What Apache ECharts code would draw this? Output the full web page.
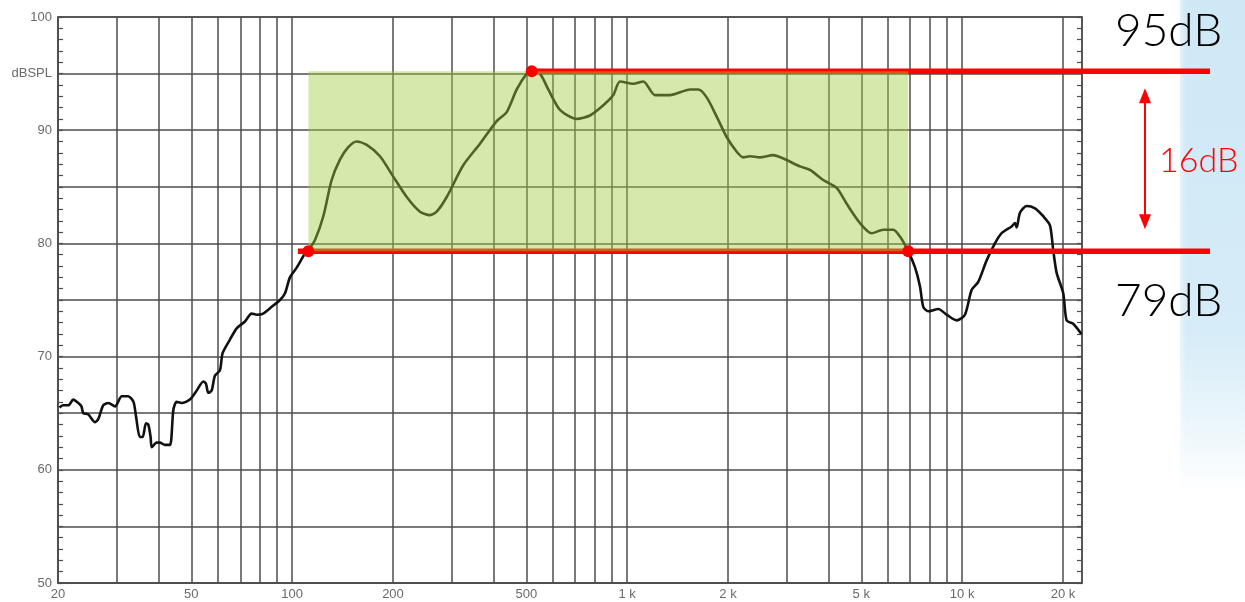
<!DOCTYPE html>
<html>
<head>
<meta charset="utf-8">
<script src="https://cdn.jsdelivr.net/npm/echarts@6/dist/echarts.min.js"></script>
<style>
html,body{margin:0;padding:0;background:#fff;}
#c{width:1245px;height:602px;}
</style>
</head>
<body>
<div id="c"></div>
<script>
// ---- data ----
const freqHz = [20.2,20.7,21.5,22.2,23.0,23.5,23.8,24.6,25.8,26.4,27.3,28.3,29.6,31.0,32.4,33.6,34.2,35.1,35.8,36.6,37.2,37.8,38.1,39.4,40.3,41.7,43.2,44.2,45.2,46.8,49.5,51.9,54.3,55.3,56.2,57.5,58.8,60.9,62.0,65.2,68.3,72.3,75.7,78.4,82.0,86.9,92.0,95.2,98.5,103.4,109.2,111.8,117,123.9,131.2,138.9,147.1,155.8,167,182.9,200.4,219.8,240.8,258,270,289.4,324.2,363.6,408,437,468.2,501.4,518.8,549.4,581.6,630.2,707,774.6,849,909.4,952,1043,1118,1211,1343,1541,1631,1728,1851,1982,2124,2222,2327,2492,2730,2926,3281,3515,3851,4222,4523,4955,5370,5816,6231,6524,6906,7232,7487,7656,7923,8489,8993,9633,10198,10680,11176,11838,12532,13122,14060,14382,14552,14884,15584,16498,17468,18292,18708,19152,20040,20510,21460,22700];
const splDb = [65.5,65.7,65.7,66.2,65.9,65.6,65.0,64.9,64.2,64.5,65.7,65.9,65.6,66.5,66.5,66.0,64.7,62.9,62.9,64.1,64.0,62.9,62.0,62.4,62.4,62.2,62.2,65.3,66.0,65.9,66.2,67.0,67.8,67.6,66.8,67.0,68.3,68.8,70.3,71.5,72.5,73.1,73.8,73.7,73.8,74.4,75.0,75.6,77.0,77.9,79.1,79.4,80.3,82.4,85.6,87.4,88.5,89.0,88.7,87.7,85.9,84.1,82.8,82.5,82.8,84.1,86.9,88.8,90.8,91.6,93.6,95.0,95.3,95.0,93.6,91.8,91.0,91.3,92.2,93.1,94.3,94.1,94.3,93.1,93.1,93.6,93.6,92.9,91.2,89.4,88.1,87.6,87.7,87.6,87.8,87.5,86.8,86.5,85.6,84.9,83.5,81.8,80.9,81.2,81.2,80.6,79.3,77.9,76.2,74.4,74.0,74.2,73.7,73.2,73.7,75.9,76.6,78.5,80.0,80.9,81.5,81.8,81.4,82.7,83.3,83.1,82.4,81.6,79.4,77.4,75.6,73.2,72.9,72.0];

const gridFreqs = [20,30,40,50,60,70,80,90,100,200,300,400,500,600,700,800,900,1000,2000,3000,4000,5000,6000,7000,8000,9000,10000,20000];
const labelFreqs = [20,50,100,200,500,1000,2000,5000,10000,20000];
const xTickLabels = ['20','50','100','200','500','1 k','2 k','5 k','10 k','20 k'];
const yLabelValues = [50,60,70,80,90,100];
const yUnitValue = 95;
const yUnitLabel = 'dBSPL';

const levelHigh = 95.2, levelLow = 79.3;
const bandStartHz = 111.8, bandEndHz = 6906, peakHz = 519;
const lowLineStartHz = 104;
const highText = '95dB', lowText = '79dB', diffText = '16dB';

// ---- chart ----
const chart = echarts.init(document.getElementById('c'), null, {renderer: 'canvas'});
const gridColor = '#4d4d4d';
const labelColor = '#6a6a6a';
const labelFont = 'Liberation Sans, Arial, sans-serif';

const yAxisBase = {
  type: 'value', min: 50, max: 100, interval: 5,
  axisLine: {show: true, lineStyle: {color: gridColor, width: 1.5}},
  axisTick: {show: true, inside: true, length: 5, lineStyle: {color: gridColor, width: 1.2}},
  minorTick: {show: true, splitNumber: 5, length: 5, lineStyle: {color: gridColor, width: 1.2}},
  splitLine: {show: true, lineStyle: {color: gridColor, width: 1.6}}
};

const option = {
  animation: false,
  backgroundColor: '#fff',
  grid: {left: 58, top: 17, width: 1024, height: 566, show: true, borderColor: gridColor, borderWidth: 1.5, backgroundColor: 'transparent'},
  xAxis: {
    type: 'log', logBase: 10, min: 20, max: 22800,
    axisLine: {show: true, lineStyle: {color: gridColor, width: 1.5}},
    axisTick: {show: false, customValues: gridFreqs},
    axisLabel: {
      show: true, customValues: labelFreqs, color: labelColor, fontSize: 13, fontFamily: labelFont, margin: 5,
      formatter: v => { const i = labelFreqs.indexOf(v); return i >= 0 ? xTickLabels[i] : ''; }
    },
    splitLine: {show: true, lineStyle: {color: gridColor, width: 1.5}},
    minorSplitLine: {show: false}
  },
  yAxis: [
    Object.assign({}, yAxisBase, {
      position: 'left',
      axisLabel: {
        show: true, color: labelColor, fontSize: 13, fontFamily: labelFont, margin: 6,
        formatter: v => v === yUnitValue ? yUnitLabel : (yLabelValues.indexOf(v) >= 0 ? String(v) : '')
      }
    }),
    Object.assign({}, yAxisBase, {
      position: 'right', axisLabel: {show: false}, splitLine: {show: false}
    })
  ],
  series: [
    {
      name: 'SPL', type: 'line', z: 2,
      data: freqHz.map((f, i) => [f, splDb[i]]),
      showSymbol: false, symbol: 'none', smooth: 0.25,
      lineStyle: {color: '#111', width: 2.6},
      markArea: {
        z: 4, silent: true,
        itemStyle: {color: 'rgba(159,205,68,0.44)', borderWidth: 0},
        data: [[{coord: [bandStartHz, levelHigh]}, {coord: [bandEndHz, levelLow]}]]
      }
    },
    {
      name: 'points', type: 'scatter', z: 6, symbolSize: 12,
      itemStyle: {color: '#ff0000', opacity: 1},
      data: [[bandStartHz, levelLow], [bandEndHz, levelLow], [peakHz, levelHigh]]
    }
  ]
};
chart.setOption(option);

// ---- annotations placed from the axis scale ----
const toPx = (f, v) => chart.convertToPixel({xAxisIndex: 0, yAxisIndex: 0}, [f, v]);
const pHighStart = toPx(peakHz, levelHigh);
const pLowStart = toPx(lowLineStartHz, levelLow);
const yHigh = pHighStart[1], yLow = pLowStart[1];
const lineEndX = 1210;
const arrowX = 1145;
const arrowTop = yHigh + 17, arrowBot = yLow - 22;
const headL = 15, headW = 6;
const annFont = 'Lato, "Noto Sans", sans-serif';

chart.setOption({
  graphic: [
    {
      type: 'rect', z: 0, silent: true,
      shape: {x: 1180, y: 0, width: 65, height: 602},
      style: {fill: new echarts.graphic.LinearGradient(0, 0, 0, 1, [
        {offset: 0, color: 'rgba(206,232,246,1)'},
        {offset: 0.55, color: 'rgba(214,236,248,1)'},
        {offset: 0.72, color: 'rgba(238,247,252,1)'},
        {offset: 0.82, color: 'rgba(255,255,255,1)'},
        {offset: 1, color: 'rgba(255,255,255,1)'}
      ])}
    },
    {
      type: 'rect', z: 0, silent: true,
      shape: {x: 1172, y: 0, width: 14, height: 602},
      style: {fill: new echarts.graphic.LinearGradient(0, 0, 1, 0, [
        {offset: 0, color: 'rgba(255,255,255,1)'},
        {offset: 1, color: 'rgba(255,255,255,0)'}
      ])}
    },
    {
      type: 'line', z: 3, silent: true,
      shape: {x1: pHighStart[0], y1: yHigh, x2: lineEndX, y2: yHigh},
      style: {stroke: '#ff0000', lineWidth: 5.5}
    },
    {
      type: 'line', z: 3, silent: true,
      shape: {x1: pLowStart[0], y1: yLow, x2: lineEndX, y2: yLow},
      style: {stroke: '#ff0000', lineWidth: 5.5}
    },
    {
      type: 'line', z: 10, silent: true,
      shape: {x1: arrowX, y1: arrowTop + headL - 2, x2: arrowX, y2: arrowBot - headL + 2},
      style: {stroke: '#ff0000', lineWidth: 2}
    },
    {
      type: 'polygon', z: 10, silent: true,
      shape: {points: [[arrowX, arrowTop], [arrowX - headW, arrowTop + headL], [arrowX + headW, arrowTop + headL]]},
      style: {fill: '#ff0000'}
    },
    {
      type: 'polygon', z: 10, silent: true,
      shape: {points: [[arrowX, arrowBot], [arrowX - headW, arrowBot - headL], [arrowX + headW, arrowBot - headL]]},
      style: {fill: '#ff0000'}
    },
    {
      type: 'text', z: 10, silent: true,
      style: {x: 1115, y: yHigh - 40, text: highText, fill: '#000', font: '300 46px ' + annFont, verticalAlign: 'middle', align: 'left'}
    },
    {
      type: 'text', z: 10, silent: true,
      style: {x: 1115, y: yLow + 50, text: lowText, fill: '#000', font: '300 46px ' + annFont, verticalAlign: 'middle', align: 'left'}
    },
    {
      type: 'text', z: 10, silent: true,
      style: {x: 1159, y: (yHigh + yLow) / 2, text: diffText, fill: '#ff0000', font: '300 34px ' + annFont, verticalAlign: 'middle', align: 'left'}
    }
  ]
});
</script>
</body>
</html>
